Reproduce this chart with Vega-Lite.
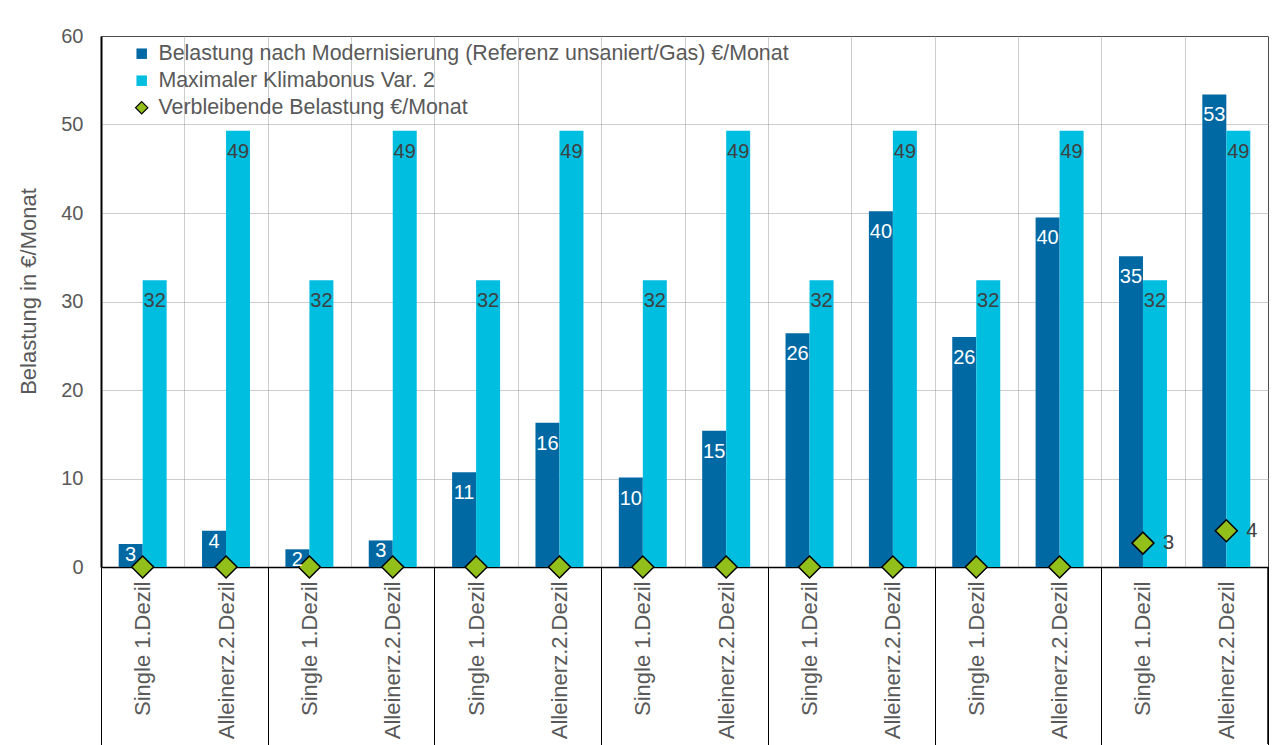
{
  "$schema": "https://vega.github.io/schema/vega-lite/v6.json",
  "width": 1167,
  "height": 531,
  "autosize": "none",
  "padding": {"left": 101, "top": 36, "right": 20, "bottom": 178},
  "background": "white",
  "config": {
    "font": "Liberation Sans",
    "view": {"stroke": "#000000", "strokeWidth": 1}
  },
  "datasets": {
    "bars": [
      {"id": "01 Single 1.Dezil", "series": "Belastung nach Modernisierung (Referenz unsaniert/Gas) €/Monat", "value": 2.6},
      {"id": "02 Alleinerz.2.Dezil", "series": "Belastung nach Modernisierung (Referenz unsaniert/Gas) €/Monat", "value": 4.1},
      {"id": "03 Single 1.Dezil", "series": "Belastung nach Modernisierung (Referenz unsaniert/Gas) €/Monat", "value": 2.0},
      {"id": "04 Alleinerz.2.Dezil", "series": "Belastung nach Modernisierung (Referenz unsaniert/Gas) €/Monat", "value": 3.0},
      {"id": "05 Single 1.Dezil", "series": "Belastung nach Modernisierung (Referenz unsaniert/Gas) €/Monat", "value": 10.7},
      {"id": "06 Alleinerz.2.Dezil", "series": "Belastung nach Modernisierung (Referenz unsaniert/Gas) €/Monat", "value": 16.3},
      {"id": "07 Single 1.Dezil", "series": "Belastung nach Modernisierung (Referenz unsaniert/Gas) €/Monat", "value": 10.1},
      {"id": "08 Alleinerz.2.Dezil", "series": "Belastung nach Modernisierung (Referenz unsaniert/Gas) €/Monat", "value": 15.4},
      {"id": "09 Single 1.Dezil", "series": "Belastung nach Modernisierung (Referenz unsaniert/Gas) €/Monat", "value": 26.4},
      {"id": "10 Alleinerz.2.Dezil", "series": "Belastung nach Modernisierung (Referenz unsaniert/Gas) €/Monat", "value": 40.2},
      {"id": "11 Single 1.Dezil", "series": "Belastung nach Modernisierung (Referenz unsaniert/Gas) €/Monat", "value": 26.0},
      {"id": "12 Alleinerz.2.Dezil", "series": "Belastung nach Modernisierung (Referenz unsaniert/Gas) €/Monat", "value": 39.5},
      {"id": "13 Single 1.Dezil", "series": "Belastung nach Modernisierung (Referenz unsaniert/Gas) €/Monat", "value": 35.1},
      {"id": "14 Alleinerz.2.Dezil", "series": "Belastung nach Modernisierung (Referenz unsaniert/Gas) €/Monat", "value": 53.4},
      {"id": "01 Single 1.Dezil", "series": "Maximaler Klimabonus Var. 2", "value": 32.4},
      {"id": "02 Alleinerz.2.Dezil", "series": "Maximaler Klimabonus Var. 2", "value": 49.3},
      {"id": "03 Single 1.Dezil", "series": "Maximaler Klimabonus Var. 2", "value": 32.4},
      {"id": "04 Alleinerz.2.Dezil", "series": "Maximaler Klimabonus Var. 2", "value": 49.3},
      {"id": "05 Single 1.Dezil", "series": "Maximaler Klimabonus Var. 2", "value": 32.4},
      {"id": "06 Alleinerz.2.Dezil", "series": "Maximaler Klimabonus Var. 2", "value": 49.3},
      {"id": "07 Single 1.Dezil", "series": "Maximaler Klimabonus Var. 2", "value": 32.4},
      {"id": "08 Alleinerz.2.Dezil", "series": "Maximaler Klimabonus Var. 2", "value": 49.3},
      {"id": "09 Single 1.Dezil", "series": "Maximaler Klimabonus Var. 2", "value": 32.4},
      {"id": "10 Alleinerz.2.Dezil", "series": "Maximaler Klimabonus Var. 2", "value": 49.3},
      {"id": "11 Single 1.Dezil", "series": "Maximaler Klimabonus Var. 2", "value": 32.4},
      {"id": "12 Alleinerz.2.Dezil", "series": "Maximaler Klimabonus Var. 2", "value": 49.3},
      {"id": "13 Single 1.Dezil", "series": "Maximaler Klimabonus Var. 2", "value": 32.4},
      {"id": "14 Alleinerz.2.Dezil", "series": "Maximaler Klimabonus Var. 2", "value": 49.3}
    ],
    "points": [
      {"id": "01 Single 1.Dezil", "series": "Verbleibende Belastung €/Monat", "value": 0, "label": ""},
      {"id": "02 Alleinerz.2.Dezil", "series": "Verbleibende Belastung €/Monat", "value": 0, "label": ""},
      {"id": "03 Single 1.Dezil", "series": "Verbleibende Belastung €/Monat", "value": 0, "label": ""},
      {"id": "04 Alleinerz.2.Dezil", "series": "Verbleibende Belastung €/Monat", "value": 0, "label": ""},
      {"id": "05 Single 1.Dezil", "series": "Verbleibende Belastung €/Monat", "value": 0, "label": ""},
      {"id": "06 Alleinerz.2.Dezil", "series": "Verbleibende Belastung €/Monat", "value": 0, "label": ""},
      {"id": "07 Single 1.Dezil", "series": "Verbleibende Belastung €/Monat", "value": 0, "label": ""},
      {"id": "08 Alleinerz.2.Dezil", "series": "Verbleibende Belastung €/Monat", "value": 0, "label": ""},
      {"id": "09 Single 1.Dezil", "series": "Verbleibende Belastung €/Monat", "value": 0, "label": ""},
      {"id": "10 Alleinerz.2.Dezil", "series": "Verbleibende Belastung €/Monat", "value": 0, "label": ""},
      {"id": "11 Single 1.Dezil", "series": "Verbleibende Belastung €/Monat", "value": 0, "label": ""},
      {"id": "12 Alleinerz.2.Dezil", "series": "Verbleibende Belastung €/Monat", "value": 0, "label": ""},
      {"id": "13 Single 1.Dezil", "series": "Verbleibende Belastung €/Monat", "value": 2.7, "label": "3"},
      {"id": "14 Alleinerz.2.Dezil", "series": "Verbleibende Belastung €/Monat", "value": 4.1, "label": "4"}
    ]
  },
  "encoding": {
    "x": {
      "field": "id",
      "type": "nominal",
      "sort": null,
      "title": null,
      "scale": {"paddingInner": 0, "paddingOuter": 0},
      "axis": {
        "labelExpr": "(datum.value && datum.value != 'undefined') ? substring(datum.value, 3) : ''",
        "labelAngle": -90,
        "labelFontSize": 22,
        "labelColor": "#595959",
        "labelPadding": -166,
        "tickBand": "extent",
        "tickSize": 180,
        "tickWidth": 1,
        "tickColor": {"condition": {"test": "!(parseInt(substring(datum.value, 0, 2)) % 2 == 1)", "value": "#000000"}, "value": "transparent"},
        "domainColor": "#000000",
        "domainWidth": 1.5,
        "grid": true,
        "gridColor": "#9A9A9A",
        "gridDash": [1, 1],
        "gridWidth": 1
      }
    },
    "y": {
      "field": "value",
      "type": "quantitative",
      "scale": {"domain": [0, 60], "nice": false},
      "title": "Belastung in €/Monat",
      "axis": {
        "values": [0, 10, 20, 30, 40, 50, 60],
        "labelFontSize": 20,
        "labelColor": "#595959",
        "labelPadding": 18,
        "ticks": false,
        "domainColor": "#000000",
        "domainWidth": 2,
        "titleFontSize": 22,
        "titleFontWeight": "normal",
        "titleColor": "#595959",
        "titlePadding": 20,
        "titleY": 255,
        "gridColor": "#9A9A9A",
        "gridDash": [1, 1],
        "gridWidth": 1
      }
    }
  },
  "layer": [
    {
      "data": {"name": "bars"},
      "mark": {"type": "bar"},
      "encoding": {
        "xOffset": {"field": "series", "type": "nominal", "sort": null, "scale": {"paddingInner": 0, "paddingOuter": 0.737}},
        "color": {
          "field": "series",
          "type": "nominal",
          "scale": {
            "domain": ["Belastung nach Modernisierung (Referenz unsaniert/Gas) €/Monat", "Maximaler Klimabonus Var. 2", "Verbleibende Belastung €/Monat"],
            "range": ["#0069A3", "#00BEE0", "#92BF1A"]
          },
          "legend": {
            "title": null,
            "orient": "none",
            "legendX": 30,
            "legendY": 7,
            "labelFontSize": 21.4,
            "labelColor": "#595959",
            "labelLimit": 900,
            "symbolSize": 110,
            "rowPadding": 4,
            "labelOffset": 6,
            "encode": {
              "symbols": {
                "update": {
                  "shape": {"signal": "datum.value == 'Verbleibende Belastung €/Monat' ? 'diamond' : 'square'"},
                  "size": {"signal": "datum.value == 'Verbleibende Belastung €/Monat' ? 150 : 110"},
                  "stroke": {"signal": "datum.value == 'Verbleibende Belastung €/Monat' ? '#000000' : null"},
                  "strokeWidth": {"value": 1.2}
                }
              }
            }
          }
        }
      }
    },
    {
      "data": {"name": "points"},
      "mark": {"type": "point", "filled": true, "shape": "diamond", "size": 484, "stroke": "#000000", "strokeWidth": 1.5, "opacity": 1},
      "encoding": {
        "color": {"field": "series", "type": "nominal"}
      }
    },
    {
      "data": {"name": "bars"},
      "transform": [{"filter": "datum.value >= 5"}],
      "mark": {"type": "text", "baseline": "middle", "align": "center", "dy": 21, "fontSize": 20},
      "encoding": {
        "xOffset": {"field": "series", "type": "nominal", "sort": null},
        "text": {"field": "value", "type": "quantitative", "format": ".0f"},
        "color": {
          "condition": {"test": "datum.series == 'Maximaler Klimabonus Var. 2'", "value": "#404040"},
          "value": "#FFFFFF"
        }
      }
    },
    {
      "data": {"name": "bars"},
      "transform": [{"filter": "datum.value < 5"}],
      "mark": {"type": "text", "baseline": "middle", "align": "center", "dy": 11, "fontSize": 20, "color": "#FFFFFF"},
      "encoding": {
        "xOffset": {"field": "series", "type": "nominal", "sort": null},
        "text": {"field": "value", "type": "quantitative", "format": ".0f"}
      }
    },
    {
      "data": {"name": "points"},
      "mark": {"type": "text", "align": "left", "baseline": "middle", "dx": 20, "fontSize": 20, "color": "#404040"},
      "encoding": {
        "text": {"field": "label"}
      }
    },
    {
      "data": {"name": "points"},
      "transform": [{"filter": "datum.label == '4'"}],
      "mark": {"type": "rule", "color": "#000000", "strokeWidth": 1.5},
      "encoding": {
        "x": {"field": "id", "type": "nominal", "bandPosition": 1},
        "y": {"datum": 0},
        "y2": {"datum": -20}
      }
    }
  ]
}
